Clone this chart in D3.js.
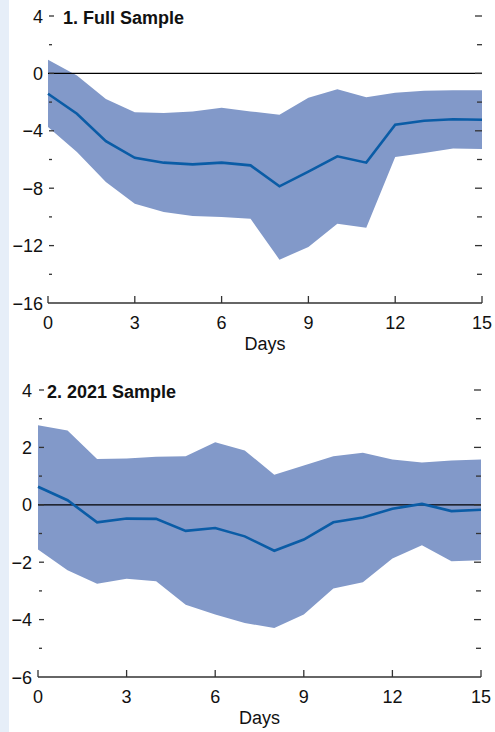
<!DOCTYPE html>
<html>
<head>
<meta charset="utf-8">
<script src="https://cdn.jsdelivr.net/npm/d3@7"></script>
<style>
  body { margin: 0; background: #fff; }
  svg text { font-family: "Liberation Sans Narrow", "Arial Narrow", "Liberation Sans", sans-serif; fill: #111; }
</style>
</head>
<body>
<svg id="chart" width="495" height="732"></svg>
<script>
const days = d3.range(0, 16);

// Panel 1: Full Sample
const fullMid = [-1.42, -2.81, -4.72, -5.88, -6.22, -6.34, -6.22, -6.41, -7.87, -6.85, -5.78, -6.22, -3.58, -3.3, -3.2, -3.23];
const fullUpper = [0.95, -0.14, -1.79, -2.7, -2.76, -2.65, -2.39, -2.65, -2.88, -1.69, -1.11, -1.67, -1.35, -1.21, -1.18, -1.18];
const fullLower = [-3.74, -5.48, -7.57, -9.08, -9.66, -9.94, -10.01, -10.13, -12.98, -12.1, -10.47, -10.75, -5.83, -5.55, -5.23, -5.27];

// Panel 2: 2021 Sample
const s2021Mid = [0.63, 0.16, -0.61, -0.48, -0.49, -0.91, -0.81, -1.1, -1.6, -1.21, -0.61, -0.44, -0.14, 0.03, -0.22, -0.17];
const s2021Upper = [2.77, 2.59, 1.6, 1.61, 1.67, 1.69, 2.18, 1.89, 1.05, 1.37, 1.69, 1.81, 1.58, 1.47, 1.54, 1.58];
const s2021Lower = [-1.56, -2.28, -2.75, -2.58, -2.66, -3.48, -3.82, -4.12, -4.29, -3.82, -2.92, -2.7, -1.87, -1.41, -1.97, -1.93];

const xTicks = [0, 3, 6, 9, 12, 15];

const svg = d3.select("#chart");

svg.append("rect")
    .attr("x", 0).attr("y", 0)
    .attr("width", 9).attr("height", 732)
    .attr("fill", "#e6eef8");

function panel(opts) {
    const { title, mid, upper, lower, yDomain, yStep, yTickVals, xRange, yRange, titleX, labelGap } = opts;
    const x = d3.scaleLinear().domain([0, 15]).range(xRange);
    const y = d3.scaleLinear().domain(yDomain).range(yRange);
    const g = svg.append("g");

    const rows = days.map((d, i) => ({ d, mid: mid[i], lo: lower[i], hi: upper[i] }));

    g.append("path")
        .datum(rows)
        .attr("fill", "#8299c9")
        .attr("d", d3.area().x(r => x(r.d)).y0(r => y(r.lo)).y1(r => y(r.hi)));

    g.append("line")
        .attr("x1", xRange[0]).attr("x2", xRange[1])
        .attr("y1", y(0)).attr("y2", y(0))
        .attr("stroke", "#000").attr("stroke-width", 1.2);

    g.append("path")
        .datum(rows)
        .attr("fill", "none")
        .attr("stroke", "#0a5ca6")
        .attr("stroke-width", 2.6)
        .attr("d", d3.line().x(r => x(r.d)).y(r => y(r.mid)));

    // y ticks: inward marks on both sides, labels only on left at major ticks
    const allTicks = d3.range(yDomain[0], yDomain[1] + 0.001, yStep);
    allTicks.forEach(v => {
        const major = yTickVals.includes(v);
        if (v === yDomain[0]) return;
        const len = major ? 5 : 3;
        g.append("line")
            .attr("x1", xRange[0] + 1).attr("x2", xRange[0] + 1 + len)
            .attr("y1", y(v)).attr("y2", y(v))
            .attr("stroke", "#333").attr("stroke-width", 1.3);
        g.append("line")
            .attr("x1", xRange[1] - len - 2).attr("x2", xRange[1])
            .attr("y1", y(v)).attr("y2", y(v))
            .attr("stroke", "#333").attr("stroke-width", 1.3);
    });
    yTickVals.forEach(v => {
        g.append("text")
            .attr("x", xRange[0] - labelGap)
            .attr("y", y(v) + 6.5)
            .attr("text-anchor", "end")
            .style("font-size", "18px")
            .text(v < 0 ? "\u2212" + Math.abs(v) : v);
    });

    // x axis
    g.append("line")
        .attr("x1", xRange[0]).attr("x2", xRange[1])
        .attr("y1", yRange[0]).attr("y2", yRange[0])
        .attr("stroke", "#333").attr("stroke-width", 1.6);
    xTicks.forEach(t => {
        g.append("line")
            .attr("x1", x(t)).attr("x2", x(t))
            .attr("y1", yRange[0]).attr("y2", yRange[0] - 7)
            .attr("stroke", "#333").attr("stroke-width", 1.3);
        g.append("text")
            .attr("x", x(t))
            .attr("y", yRange[0] + 26)
            .attr("text-anchor", "middle")
            .style("font-size", "18px")
            .text(t);
    });
    g.append("text")
        .attr("x", (xRange[0] + xRange[1]) / 2)
        .attr("y", yRange[0] + 47)
        .attr("text-anchor", "middle")
        .style("font-size", "18px")
        .text("Days");

    g.append("text")
        .attr("x", titleX)
        .attr("y", y(yDomain[1]) + 7.5)
        .style("font-size", "18px")
        .style("font-weight", "bold")
        .text(title);
}

panel({
    title: "1. Full Sample",
    mid: fullMid, upper: fullUpper, lower: fullLower,
    yDomain: [-16, 4], yStep: 2, yTickVals: [4, 0, -4, -8, -12, -16],
    xRange: [48, 482], yRange: [303, 16], titleX: 63, labelGap: 5
});

panel({
    title: "2. 2021 Sample",
    mid: s2021Mid, upper: s2021Upper, lower: s2021Lower,
    yDomain: [-6, 4], yStep: 1, yTickVals: [4, 2, 0, -2, -4, -6],
    xRange: [38, 481], yRange: [677, 390], titleX: 47, labelGap: 6
});
</script>
</body>
</html>
